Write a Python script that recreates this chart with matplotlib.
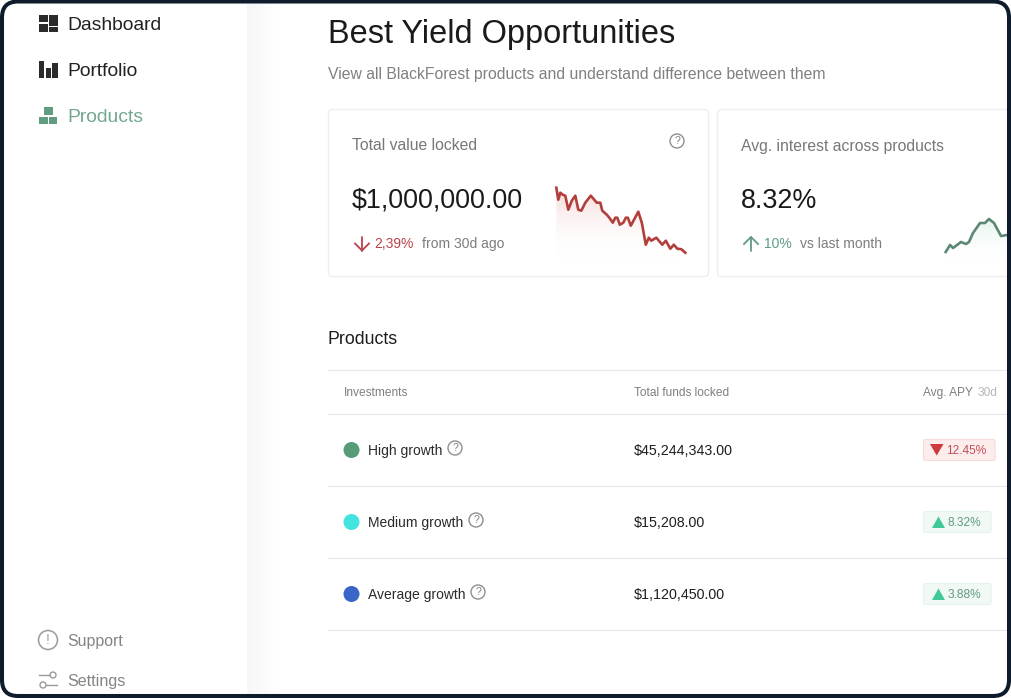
import numpy as np
import matplotlib
matplotlib.use("Agg")
import matplotlib.pyplot as plt
from matplotlib.patches import FancyBboxPatch, Rectangle, Circle, Polygon, PathPatch
from matplotlib.colors import LinearSegmentedColormap

plt.rcParams['font.family'] = ['Liberation Sans', 'DejaVu Sans']

# ---- data ----
nav_labels = ["Dashboard", "Portfolio", "Products"]
footer_labels = ["Support", "Settings"]
product_names = ["High growth", "Medium growth", "Average growth"]
product_funds = ["$45,244,343.00", "$15,208.00", "$1,120,450.00"]
product_apy = ["12.45%", "8.32%", "3.88%"]
table_headers = ["Investments", "Total funds locked", "Avg. APY"]

tvl_x = [0, 2, 4, 6.5, 9, 12, 15.5, 19, 22, 25, 29, 34.5, 40.5, 44, 46, 50.5, 53, 56.5, 59, 61,
         63.5, 67, 69.5, 71.5, 74.5, 82, 85.5, 89.5, 92.5, 95, 100, 106, 109.5, 114, 117.5, 121, 125, 129]
tvl_y = [65, 53, 60, 58, 57, 43, 52, 57, 43, 42, 50, 57, 50, 50, 42, 38, 35, 30, 35, 35,
         28, 30, 35, 35, 27, 41, 30, 8, 15, 12, 15, 8, 12, 4, 8, 4, 3.5, 0]
apy_x = [0, 4.3, 7.3, 15.3, 20.3, 23.3, 27.3, 34.3, 39.3, 43.3, 48.3, 55.3, 61.3]
apy_y = [0, 7, 4, 10, 8, 10, 19, 29, 29, 33, 29, 16, 17]

# ---- canvas in pixel coordinates ----
W, H = 1011, 698
fig = plt.figure(figsize=(W / 100, H / 100), dpi=100, facecolor="white")
ax = fig.add_axes([0, 0, 1, 1])
ax.set_xlim(0, W)
ax.set_ylim(H, 0)
ax.axis("off")


def T(x, y, s, size, color="#1c1c1c", ha="left", **kw):
    return ax.text(x, y + 1, s, fontsize=size, color=color, ha=ha, va="center", **kw)


def rrect(x0, y0, x1, y1, r, fc, ec, lw=0.8, z=2):
    p = FancyBboxPatch((x0 + r, y0 + r), x1 - x0 - 2 * r, y1 - y0 - 2 * r,
                       boxstyle=f"round,pad={r},rounding_size={r}", fc=fc, ec=ec, lw=lw, zorder=z)
    ax.add_patch(p)
    return p


def help_icon(x, y, r=7):
    ax.add_patch(Circle((x, y), r, fc="none", ec="#8f8f8f", lw=1.0, zorder=3))
    T(x, y - 1, "?", 7.5, "#808080", ha="center")


def arrow(x, y0, y1, color):
    ax.plot([x, x], [y0, y1], color=color, lw=1.3, solid_capstyle="round")
    s = 1 if y1 > y0 else -1
    ax.plot([x - 7, x, x + 7], [y1 - s * 7, y1, y1 - s * 7], color=color, lw=1.3)


# sidebar shadow
shade = np.linspace(0, 1, 40)[None, :]
cm = LinearSegmentedColormap.from_list("s", ["#f7f7f7", "#ffffff"])
ax.imshow(shade, extent=(247, 280, H, 0), cmap=cm, aspect="auto", zorder=0.5, vmin=0, vmax=1)
ax.set_xlim(0, W)
ax.set_ylim(H, 0)

# nav icons
d = "#2b2b2b"
for (x, y, w, h) in [(38.7, 14.7, 9, 7.5), (38.7, 23.5, 9, 8), (49, 14.7, 9, 11.3), (49, 27.2, 9, 4.3)]:
    ax.add_patch(Rectangle((x, y), w, h, fc=d, ec="none"))
for (x, y, w, h) in [(38.7, 60.7, 5.6, 17.3), (45.7, 68, 5.3, 10), (52.3, 63, 5.7, 15)]:
    ax.add_patch(Rectangle((x, y), w, h, fc=d, ec="none"))
g = "#5f9c80"
for (x, y, w, h) in [(44, 107.3, 8.7, 8), (39.3, 116.7, 8.4, 7.3), (48.7, 116.7, 8, 7.3)]:
    ax.add_patch(Rectangle((x, y), w, h, fc=g, ec="none"))

T(67.5, 24.5, nav_labels[0], 13.9, "#222222")
T(67.5, 70.5, nav_labels[1], 13.9, "#222222")
T(67.5, 116.5, nav_labels[2], 13.9, "#72a98f")

# footer
ax.add_patch(Circle((48, 640), 9.5, fc="none", ec="#9a9a9a", lw=1.1))
T(48, 639, "!", 10, "#9a9a9a", ha="center")
T(67.5, 640.5, footer_labels[0], 11.4, "#848484")
ax.plot([39, 50], [675, 675], color="#9a9a9a", lw=1)
ax.add_patch(Circle((53, 675), 3, fc="white", ec="#9a9a9a", lw=1))
ax.plot([46, 57], [685, 685], color="#9a9a9a", lw=1)
ax.add_patch(Circle((43, 685), 3, fc="white", ec="#9a9a9a", lw=1))
T(67.5, 680.5, footer_labels[1], 11.6, "#848484")

# heading
T(328, 33.5, "Best Yield Opportunities", 23.45, "#1a1a1a")
T(328, 73.5, "View all BlackForest products and understand difference between them", 11.3, "#808080")

# cards
rrect(328.5, 109.5, 708.5, 276.5, 4, "white", "#efefef", lw=1.0)
rrect(717.5, 109.5, 1040, 276.5, 4, "white", "#efefef", lw=1.0)
T(352, 145, "Total value locked", 11.3, "#777777")
help_icon(677, 141)
T(352, 199.5, "$1,000,000.00", 19.4, "#1a1a1a")
red = "#b8444a"
arrow(362, 237, 250.5, red)
T(374, 243, "2,39%", 10, red)
T(422, 243, "from 30d ago", 10, "#7d7d7d")

T(741, 145, "Avg. interest across products", 11.3, "#777777")
T(741, 199.5, "8.32%", 19.4, "#1a1a1a")
grn = "#5e9c84"
arrow(751, 250.5, 237, grn)
T(764, 243, "10%", 10, grn)
T(800, 243, "vs last month", 10, "#7d7d7d")


def spark(px0, px1, py_top, py_bot, xs, ys, ylim, xlim, line, fill, fill_top=0.9):
    a = fig.add_axes([px0 / W, 1 - py_bot / H, (px1 - px0) / W, (py_bot - py_top) / H], zorder=2)
    a.patch.set_alpha(0)
    a.axis("off")
    a.set_xlim(*xlim)
    a.set_ylim(*ylim)
    poly = a.fill_between(xs, ylim[0], ys, color="none", lw=0)
    cmap = LinearSegmentedColormap.from_list("f", [(1, 1, 1, 0), fill])
    im = a.imshow(np.linspace(fill_top, 0, 64)[:, None], extent=(xlim[0], xlim[1], ylim[0], ylim[1]),
                  cmap=cmap, vmin=0, vmax=1, aspect="auto", zorder=1)
    path = poly.get_paths()[0]
    im.set_clip_path(PathPatch(path, transform=a.transData))
    a.set_xlim(*xlim)
    a.set_ylim(*ylim)
    a.plot(xs, ys, color=line, lw=1.9, zorder=2, solid_joinstyle="round", clip_on=False)
    return a


spark(556.3, 685.3, 185, 260, tvl_x, tvl_y, (-7.3, 67.7), (0, 129), "#b23f3c", "#f0b6b6", 0.75)
spark(945.7, 1007, 215, 260, apy_x, apy_y, (-8, 37), (0, 61.3), "#5c8873", "#bfe6d2", 0.75)

# products table
T(327.5, 339, "Products", 12.8, "#1c1c1c")
for y in (369.5, 413.5, 486, 558, 630):
    ax.plot([328, 1008], [y, y], color="#e8e8e8", lw=0.9, zorder=1)
T(344, 392, table_headers[0], 8.6, "#7e7e7e")
T(634, 392, table_headers[1], 8.6, "#7e7e7e")
T(923, 392, table_headers[2], 8.6, "#7e7e7e")
T(978, 392, "30d", 8.6, "#b5b5b5")

dots = ["#569c78", "#43e3e0", "#3a66c8"]
rows_y = [450, 522, 594]
help_x = [455, 476, 478]
badge_fc = ["#fdecec", "#f1f9f5", "#f1f9f5"]
badge_ec = ["#f6d9d9", "#e6f3ec", "#e6f3ec"]
badge_x1 = [995, 991, 991]
apy_col = ["#c0505a", "#5f9a82", "#5f9a82"]
for i, y in enumerate(rows_y):
    ax.add_patch(Circle((351.5, y), 8, fc=dots[i], ec="none"))
    T(367.5, y, product_names[i], 10.0, "#2a2a2a")
    help_icon(help_x[i], y - 2)
    T(633.5, y, product_funds[i], 10.3, "#1e1e1e")
    rrect(923.5, y - 10.5, badge_x1[i], y + 10.5, 2, badge_fc[i], badge_ec[i])
    if i == 0:
        ax.add_patch(Polygon([(930, y - 6), (943.5, y - 6), (936.7, y + 5.5)], fc="#d0383f", ec="none", zorder=3))
        T(946, y - 0.5, product_apy[i], 8.6, apy_col[i])
    else:
        ax.add_patch(Polygon([(932, y + 6), (945, y + 6), (938.5, y - 5.5)], fc="#40c994", ec="none", zorder=3))
        T(948, y - 0.5, product_apy[i], 8.6, apy_col[i])

# device frame
frame_ax = fig.add_axes([0, 0, 1, 1], zorder=5)
frame_ax.set_xlim(0, W)
frame_ax.set_ylim(H, 0)
frame_ax.axis("off")
frame_ax.patch.set_alpha(0)
r = 16
frame_ax.add_patch(FancyBboxPatch((2 + r, 1.5 + r), W - 4 - 2 * r, H - 3.5 - 2 * r,
                                  boxstyle=f"round,pad={r},rounding_size={r}",
                                  fc="none", ec="#0e1b2c", lw=2.9, zorder=10))

fig.savefig("out.png", dpi=100)
